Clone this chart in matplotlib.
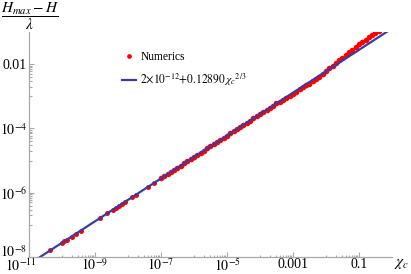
import numpy as np
import matplotlib
matplotlib.use('Agg')
import matplotlib.pyplot as plt
import matplotlib.transforms as mtransforms
from matplotlib.ticker import FixedLocator, NullFormatter
from matplotlib.lines import Line2D

plt.rcParams['font.family'] = ['Liberation Serif', 'DejaVu Serif']
plt.rcParams['mathtext.fontset'] = 'stix'

# numerical points (chi_c, (Hmax-H)/lambda)
chi_sparse = [4.4e-11, 9.8e-11, 1.15e-10, 1.38e-10, 1.95e-10, 2.63e-10, 3.72e-10,
              1.41e-9, 2.34e-9, 3.55e-9, 4.37e-9, 5.37e-9, 6.61e-9, 8.13e-9,
              1.35e-8, 1.74e-8, 4.17e-8, 6.17e-8]
h_sparse = [1.60e-8, 2.73e-8, 3.05e-8, 3.44e-8, 4.34e-8, 5.29e-8, 6.65e-8,
            1.62e-7, 2.27e-7, 3.00e-7, 3.44e-7, 3.95e-7, 4.54e-7, 5.21e-7,
            7.30e-7, 8.65e-7, 1.55e-6, 2.01e-6]

chi_dense = [1.00e-7, 1.26e-7, 1.58e-7, 2.00e-7, 2.51e-7, 3.16e-7, 3.98e-7, 5.01e-7, 6.31e-7, 7.94e-7,
             1.00e-6, 1.26e-6, 1.58e-6, 2.00e-6, 2.51e-6, 3.16e-6, 3.98e-6, 5.01e-6, 6.31e-6, 7.94e-6,
             1.00e-5, 1.26e-5, 1.58e-5, 2.00e-5, 2.51e-5, 3.16e-5, 3.98e-5, 5.01e-5, 6.31e-5, 7.94e-5,
             1.00e-4, 1.26e-4, 1.58e-4, 2.00e-4, 2.51e-4, 3.16e-4, 3.98e-4, 5.01e-4, 6.31e-4, 7.94e-4,
             1.00e-3, 1.26e-3, 1.58e-3, 2.00e-3, 2.51e-3, 3.16e-3, 3.98e-3, 5.01e-3, 6.31e-3, 7.94e-3,
             1.00e-2, 1.26e-2, 1.58e-2, 2.00e-2, 2.51e-2, 3.16e-2, 3.98e-2, 5.01e-2, 6.31e-2, 7.94e-2,
             1.00e-1, 1.26e-1, 1.58e-1, 2.00e-1, 2.51e-1, 3.16e-1, 3.98e-1]
h_dense = [2.78e-6, 3.24e-6, 3.77e-6, 4.40e-6, 5.13e-6, 5.98e-6, 6.97e-6, 8.13e-6, 9.48e-6, 1.11e-5,
           1.29e-5, 1.50e-5, 1.75e-5, 2.04e-5, 2.38e-5, 2.78e-5, 3.24e-5, 3.77e-5, 4.40e-5, 5.13e-5,
           5.98e-5, 6.97e-5, 8.13e-5, 9.48e-5, 1.11e-4, 1.29e-4, 1.50e-4, 1.75e-4, 2.04e-4, 2.38e-4,
           2.78e-4, 3.24e-4, 3.77e-4, 4.40e-4, 5.13e-4, 5.98e-4, 6.49e-4, 7.57e-4, 8.83e-4, 1.03e-3,
           1.20e-3, 1.40e-3, 1.63e-3, 1.90e-3, 2.22e-3, 2.49e-3, 2.92e-3, 3.40e-3, 4.09e-3, 4.98e-3,
           5.98e-3, 7.49e-3, 9.05e-3, 1.09e-2, 1.33e-2, 1.60e-2, 1.93e-2, 2.33e-2, 2.81e-2, 3.40e-2,
           4.11e-2, 4.80e-2, 5.79e-2, 6.75e-2, 7.87e-2, 9.18e-2, 1.07e-1]

# fit from the legend
fit_a = 2e-12
fit_b = 0.12890

x_major = [1e-11, 1e-9, 1e-7, 1e-5, 1e-3, 1e-1]
x_labels = [r'$10^{-11}$', r'$10^{-9}$', r'$10^{-7}$', r'$10^{-5}$', '0.001', '0.1']
y_major = [1e-8, 1e-6, 1e-4, 1e-2]
y_labels = [r'$10^{-8}$', r'$10^{-6}$', r'$10^{-4}$', '0.01']

red = '#ff0000'
blue = '#3c3ca0'
grey = '#a8a8a8'

fig = plt.figure(figsize=(4.11, 2.74), dpi=100)
ax = fig.add_axes([29 / 411, 17 / 274, 363 / 411, 225 / 274])

ax.plot(chi_sparse, h_sparse, 'o', color=red, ms=3.6, mec='none')
ax.plot(chi_dense, h_dense, 'o', color=red, ms=4.0, mec='none')
xs = np.logspace(-11, 0, 400)
ax.plot(xs, fit_a + fit_b * xs ** (2 / 3), color=blue, lw=1.6)

ax.set_xscale('log')
ax.set_yscale('log')
ax.set_xlim(1e-11, 1)
ax.set_ylim(1e-8, 1e-1)

x_minor = [m * 10.0 ** k for k in (-10, -8, -6, -4, -2) for m in range(1, 10)]
y_minor = [m * 10.0 ** k for k in (-7, -5, -3) for m in range(1, 10)]
ax.xaxis.set_major_locator(FixedLocator(x_major))
ax.xaxis.set_minor_locator(FixedLocator(x_minor))
ax.yaxis.set_major_locator(FixedLocator(y_major))
ax.yaxis.set_minor_locator(FixedLocator(y_minor))
ax.set_xticklabels(x_labels)
ax.set_yticklabels(y_labels)
ax.xaxis.set_minor_formatter(NullFormatter())
ax.yaxis.set_minor_formatter(NullFormatter())

for s in ('top', 'right'):
    ax.spines[s].set_visible(False)
for s in ('left', 'bottom'):
    ax.spines[s].set_color(grey)
    ax.spines[s].set_linewidth(0.9)
ax.tick_params(which='both', direction='in', color=grey, width=0.8, labelsize=10)
ax.tick_params(which='major', length=3.5)
ax.tick_params(which='minor', length=1.8)
ax.tick_params(axis='x', which='major', pad=0.5)
ax.tick_params(axis='y', which='major', pad=1.5)

# nudge the corner labels apart like the original
xl0 = ax.get_xticklabels()[0]
xl0.set_transform(xl0.get_transform() + mtransforms.ScaledTranslation(-8 / 100, 0, fig.dpi_scale_trans))
yl0 = ax.get_yticklabels()[0]
yl0.set_transform(yl0.get_transform() + mtransforms.ScaledTranslation(0, 6 / 100, fig.dpi_scale_trans))

fig.text(0.073, 0.943, r'$\dfrac{H_{max}-H}{\lambda}$', ha='center', va='center', fontsize=11)
fig.text(0.958, 0.035, r'$\chi_c$', ha='left', va='center', fontsize=11)

handles = [Line2D([], [], ls='none', marker='o', color=red, ms=3.4, mec='none'),
           Line2D([], [], color=blue, lw=1.6)]
labels = ['Numerics', r'$2{\times}10^{-12}{+}0.12890\,\chi_c{}^{2/3}$']
ax.legend(handles, labels, loc='upper left', bbox_to_anchor=(0.24, 0.94), frameon=False,
          fontsize=8.3, handlelength=1.2, handletextpad=0.4, labelspacing=0.7, borderpad=0)

fig.savefig('out.png', dpi=100)
